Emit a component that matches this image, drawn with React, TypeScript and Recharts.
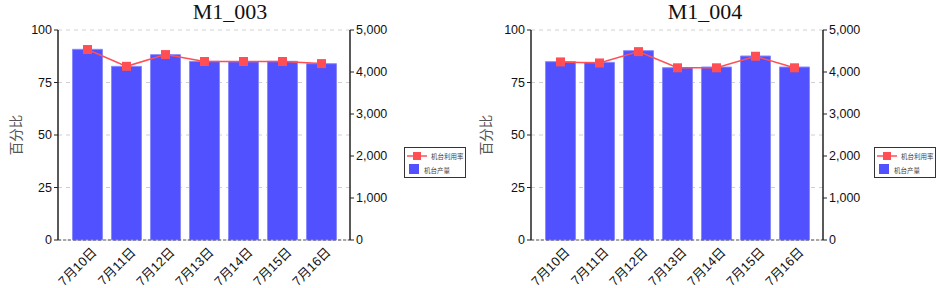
import React from 'react';
import { ComposedChart, Bar, Line, XAxis, YAxis, CartesianGrid, Legend } from 'recharts';

const dates = ['7月10日', '7月11日', '7月12日', '7月13日', '7月14日', '7月15日', '7月16日'];

const m1003Rate = [90.7, 82.7, 88.3, 85.0, 85.0, 85.0, 84.0];
const m1003Output = [4540, 4135, 4413, 4254, 4246, 4254, 4198];

const m1004Rate = [84.8, 84.3, 89.7, 82.0, 82.0, 87.5, 82.0];
const m1004Output = [4246, 4230, 4508, 4103, 4119, 4381, 4119];

const rateTicks = [0, 25, 50, 75, 100];
const outputTicks = [0, 1000, 2000, 3000, 4000, 5000];

const BAR_COLOR = '#5151ff';
const LINE_COLOR = '#ff4f55';
const FONT = 'Arial, "Liberation Sans", "Noto Sans CJK SC", sans-serif';
const CJK = '"Noto Sans CJK SC", sans-serif';

const SquareDot = (props: any) => {
  const { cx, cy } = props;
  if (cx == null || cy == null) return null;
  return <rect x={cx - 4.5} y={cy - 4.5} width={9} height={9} fill={LINE_COLOR} />;
};

// rotated date labels, anchored at their end just under the axis
const XTick = (props: any) => {
  const { x, y, payload } = props;
  return (
    <g transform={`translate(${x + 10},${y + 5})`}>
      <text textAnchor="end" transform="rotate(-45)" fontSize={13} fill="#111" fontFamily={FONT}>
        {payload.value}
      </text>
    </g>
  );
};

const LegendBox = () => (
  <div
    style={{
      width: 60,
      height: 29,
      border: '1.5px solid #333',
      background: '#fff',
      fontFamily: CJK,
      fontSize: 6.5,
      color: '#444',
      position: 'relative',
    }}
  >
    <svg width={20} height={10} style={{ position: 'absolute', left: 2, top: 3 }}>
      <line x1={0} y1={5} x2={20} y2={5} stroke={LINE_COLOR} strokeWidth={1.5} />
      <rect x={6} y={1} width={8} height={8} fill={LINE_COLOR} />
    </svg>
    <span style={{ position: 'absolute', left: 26, top: 3, whiteSpace: 'nowrap', lineHeight: '10px' }}>机台利用率</span>
    <div style={{ position: 'absolute', left: 4, top: 16, width: 10, height: 10, background: BAR_COLOR }} />
    <span style={{ position: 'absolute', left: 19, top: 17, whiteSpace: 'nowrap', lineHeight: '10px' }}>机台产量</span>
  </div>
);

const YLabel = (props: any) => {
  const { viewBox } = props;
  const x = viewBox.x + 15;
  const y = viewBox.y + viewBox.height / 2;
  return (
    <text
      x={x}
      y={y}
      transform={`rotate(-90, ${x}, ${y})`}
      textAnchor="middle"
      dominantBaseline="central"
      fontSize={13.5}
      fill="#555"
      fontFamily={CJK}
    >
      百分比
    </text>
  );
};

interface MachineChartProps {
  title: string;
  rates: number[];
  outputs: number[];
  leftWidth: number;
  titleX: number;
}

const MachineChart: React.FC<MachineChartProps> = ({ title, rates, outputs, leftWidth, titleX }) => {
  const data = dates.map((d, i) => ({ name: d, rate: rates[i], output: outputs[i] }));
  return (
    <div style={{ position: 'relative', width: 470, height: 288 }}>
      <div
        style={{
          position: 'absolute',
          left: titleX - 60,
          width: 120,
          top: 0,
          lineHeight: '24px',
          textAlign: 'center',
          fontFamily: '"Liberation Serif", "Times New Roman", serif',
          fontSize: 22,
          color: '#111',
        }}
      >
        {title}
      </div>
      <ComposedChart
        width={470}
        height={288}
        data={data}
        margin={{ top: 30, right: 0, bottom: 0, left: 0 }}
        barCategoryGap="11.5%"
      >
        <CartesianGrid horizontal vertical={false} yAxisId="rate" stroke="#d0d0d0" strokeDasharray="4 4" />
        <XAxis
          dataKey="name"
          height={48}
          padding={{ left: 10, right: 9 }}
          tickLine={false}
          axisLine={{ stroke: '#555', strokeDasharray: '3 2' }}
          tick={<XTick />}
          interval={0}
        />
        <YAxis
          yAxisId="rate"
          orientation="left"
          width={leftWidth}
          domain={[0, 100]}
          ticks={rateTicks}
          tickSize={4}
          axisLine={{ stroke: '#222', strokeWidth: 1.5 }}
          tickLine={{ stroke: '#222' }}
          tick={{ fontSize: 12.5, fill: '#111', fontFamily: FONT }}
          label={<YLabel />}
        />
        <YAxis
          yAxisId="output"
          orientation="right"
          width={470 - leftWidth - 292}
          domain={[0, 5000]}
          ticks={outputTicks}
          tickSize={4}
          axisLine={{ stroke: '#222', strokeWidth: 1.5 }}
          tickLine={{ stroke: '#222' }}
          tick={{ fontSize: 12.5, fill: '#111', fontFamily: FONT, textAnchor: 'start' }}
          tickFormatter={(v: number) => v.toLocaleString('en-US')}
        />
        <Bar
          yAxisId="output"
          dataKey="output"
          name="机台产量"
          fill={BAR_COLOR}
          stroke="#8a8aff"
          strokeWidth={1}
          isAnimationActive={false}
        />
        <Line
          yAxisId="rate"
          dataKey="rate"
          name="机台利用率"
          stroke={LINE_COLOR}
          strokeWidth={1.5}
          dot={<SquareDot />}
          activeDot={false}
          isAnimationActive={false}
        />
        <Legend
          layout="vertical"
          align="center"
          verticalAlign="middle"
          content={() => <LegendBox />}
          wrapperStyle={{ left: 404, top: 147, width: 63 }}
        />
      </ComposedChart>
    </div>
  );
}

export default function App() {
  return (
    <div style={{ position: 'absolute', left: 0, top: 0, width: 940, height: 288, display: 'flex', background: '#fff' }}>
      <MachineChart title="M1_003" rates={m1003Rate} outputs={m1003Output} leftWidth={58} titleX={230} />
      <MachineChart title="M1_004" rates={m1004Rate} outputs={m1004Output} leftWidth={61} titleX={235} />
    </div>
  );
}
